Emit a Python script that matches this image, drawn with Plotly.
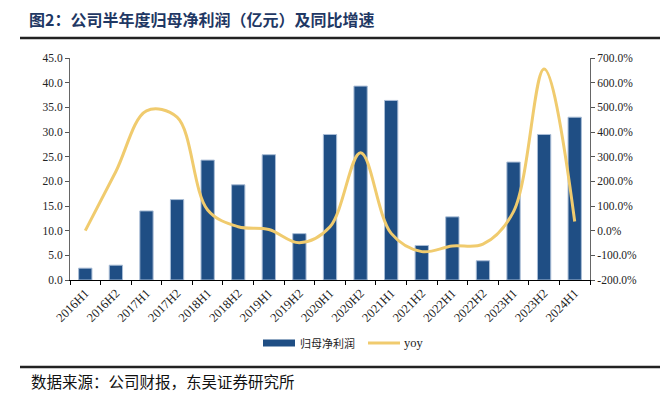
import plotly.graph_objects as go

categories = ["2016H1", "2016H2", "2017H1", "2017H2", "2018H1", "2018H2", "2019H1",
              "2019H2", "2020H1", "2020H2", "2021H1", "2021H2", "2022H1", "2022H2",
              "2023H1", "2023H2", "2024H1"]
profit = [2.4, 3.0, 14.0, 16.3, 24.3, 19.3, 25.4, 9.4, 29.5, 39.3, 36.4, 7.0, 12.8, 3.9, 23.9, 29.5, 33.0]
yoy = [0, 240, 486, 460, 84, 16, 5, -49, 16, 316, -11, -85, -62, -55, 77, 655, 37]

left_ticks = [0, 5, 10, 15, 20, 25, 30, 35, 40, 45]
right_ticks = [-200, -100, 0, 100, 200, 300, 400, 500, 600, 700]
left_labels = [f"{v:.1f}" for v in left_ticks]
right_labels = [f"{v:.1f}%" for v in right_ticks]

BAR = "#1F4E84"
LINE = "#F0CB6E"
serif = "Times New Roman, Liberation Serif, serif"
cjk = "Noto Sans CJK SC"

# page has an 8px body margin; work in page pixels and convert
OFF = 8
W, H = 671 - OFF, 393 - OFF
PL, PR, PT, PB = 70, 590, 58, 280  # plot area in page pixels
pw, ph = PR - PL, PB - PT


def px(x):
    return (x - PL) / pw


def py(y):
    return (PB - y) / ph


fig = go.Figure()
fig.add_trace(go.Bar(x=categories, y=profit, name="归母净利润",
                     marker=dict(color=BAR, line=dict(color="#A9BDD6", width=1)),
                     yaxis="y", showlegend=False))
fig.add_trace(go.Scatter(x=categories, y=yoy, name="yoy", mode="lines",
                         line=dict(color=LINE, width=3, shape="spline", smoothing=1.0),
                         yaxis="y2", showlegend=False))

fig.update_layout(
    width=W, height=H,
    margin=dict(l=PL - OFF, r=W - (PR - OFF), t=PT - OFF, b=H - (PB - OFF), autoexpand=False),
    paper_bgcolor="white", plot_bgcolor="white",
    bargap=0.565,
    font=dict(family=serif, size=11, color="#222"),
    xaxis=dict(type="category", tickangle=-45, ticks="outside", tickson="boundaries",
               ticklen=4, tickcolor="#000", showline=True, linecolor="#000", linewidth=1,
               showgrid=False, tickfont=dict(family=serif, size=12.5, color="#222")),
    yaxis=dict(range=[0, 45], tickvals=left_ticks, ticktext=left_labels, ticks="outside",
               ticklen=4, tickcolor="#555", showline=True, linecolor="#666", linewidth=1,
               showgrid=False, zeroline=False, tickfont=dict(family=serif, size=11.5, color="#222")),
    yaxis2=dict(range=[-200, 700], tickvals=right_ticks, ticktext=right_labels,
                overlaying="y", side="right", ticks="outside", ticklen=4, tickcolor="#555",
                showline=True, linecolor="#666", linewidth=1, showgrid=False, zeroline=False,
                tickfont=dict(family=serif, size=11.5, color="#222")),
)

# title
fig.add_annotation(xref="paper", yref="paper", x=px(27), y=py(19),
                   xanchor="left", yanchor="middle", showarrow=False,
                   text="<b>图2：公司半年度归母净利润（亿元）及同比增速</b>",
                   font=dict(family=cjk, size=16, color="#1F3864"))
fig.add_shape(type="line", xref="paper", yref="paper",
              x0=px(20), x1=px(660), y0=py(38), y1=py(38),
              line=dict(color="#222", width=2.5))

# legend
ly = py(343)
fig.add_shape(type="rect", xref="paper", yref="paper",
              x0=px(263), x1=px(295), y0=ly - 3.5 / ph, y1=ly + 3.5 / ph,
              fillcolor=BAR, line=dict(width=0))
fig.add_annotation(xref="paper", yref="paper", x=px(298), y=ly,
                   xanchor="left", yanchor="middle", showarrow=False, text="归母净利润",
                   font=dict(family=cjk, size=11, color="#222"))
fig.add_shape(type="line", xref="paper", yref="paper",
              x0=px(368), x1=px(400), y0=ly, y1=ly,
              line=dict(color=LINE, width=3))
fig.add_annotation(xref="paper", yref="paper", x=px(402), y=ly,
                   xanchor="left", yanchor="middle", showarrow=False, text="yoy",
                   font=dict(family=serif, size=12.5, color="#222"))

# footer
fig.add_shape(type="line", xref="paper", yref="paper",
              x0=px(20), x1=px(660), y0=py(367), y1=py(367),
              line=dict(color="#222", width=2.5))
fig.add_annotation(xref="paper", yref="paper", x=px(29), y=py(381),
                   xanchor="left", yanchor="middle", showarrow=False,
                   text="数据来源：公司财报，东吴证券研究所",
                   font=dict(family=cjk, size=15.5, color="#111"))

fig.write_html("out.html")
